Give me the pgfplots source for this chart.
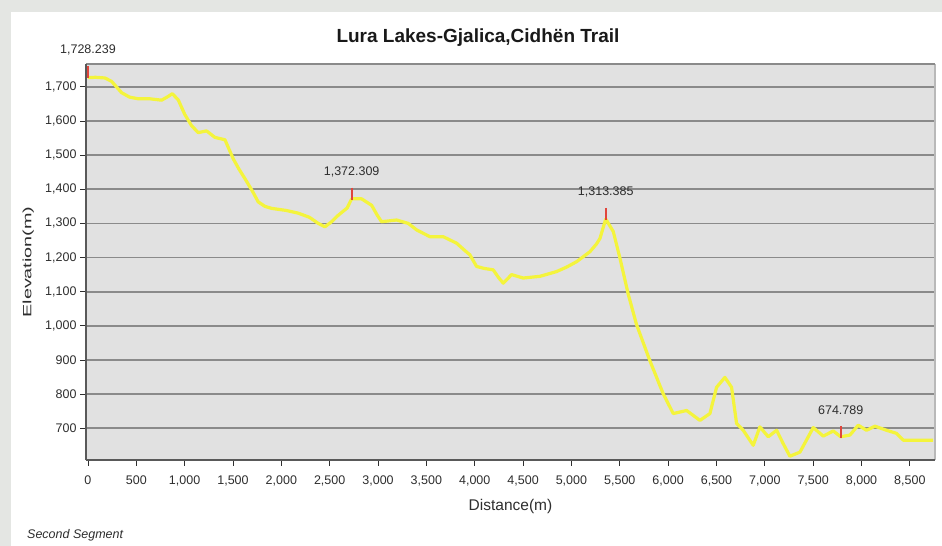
\documentclass[border=0pt]{standalone}
\usepackage{pgfplots}
\pgfplotsset{compat=1.18}
\usepackage{fontspec}
\setmainfont{Liberation Sans}
\usepackage{graphicx}
\definecolor{frame}{HTML}{E4E6E3}
\definecolor{plotbg}{HTML}{E1E1E1}
\definecolor{gridc}{HTML}{8A8A8A}
\definecolor{trail}{HTML}{F4F43C}
\definecolor{txt}{HTML}{2E2E2E}
\definecolor{peak}{HTML}{E0463C}

% elevation profile, distance (m) vs elevation (m)
\pgfplotstableread{
x y
0 1727
80 1728
176 1726
245 1716
348 1683
430 1670
520 1665
640 1665
762 1661
830 1672
872 1680
934 1662
1000 1620
1072 1586
1141 1566
1227 1571
1313 1552
1417 1545
1503 1489
1560 1460
1624 1431
1700 1395
1761 1363
1830 1350
1900 1344
2050 1338
2175 1330
2290 1318
2382 1300
2451 1290
2520 1305
2589 1324
2680 1345
2727 1372
2830 1372
2934 1353
2990 1325
3037 1305
3192 1310
3313 1300
3399 1281
3537 1261
3675 1261
3813 1242
3900 1220
3950 1208
4019 1174
4100 1168
4191 1164
4250 1140
4295 1125
4381 1150
4501 1140
4674 1145
4847 1159
4950 1172
5054 1188
5191 1217
5260 1240
5295 1256
5355 1313
5433 1276
5502 1198
5588 1092
5673 1004
5811 898
5949 801
6053 743
6191 752
6329 723
6432 743
6501 820
6587 849
6656 820
6708 714
6777 694
6880 650
6949 704
7035 675
7122 694
7190 655
7259 618
7363 630
7501 702
7604 677
7708 692
7785 675
7880 680
7966 709
8052 694
8139 706
8259 694
8362 685
8431 665
8569 665
8740 665
}\profile

\pgfplotstableread{
x y lab
0 1728.239 1,728.239
2727 1372.309 1,372.309
5355 1313.385 1,313.385
7785 674.789 674.789
}\peaks

\begin{document}
\begin{tikzpicture}[x=1bp,y=1bp]
\fill[frame] (0,0) rectangle (942,546);
\fill[white] (11,0) rectangle (942,534);
\begin{axis}[
  at={(86bp,86bp)}, anchor=south west,
  scale only axis, width=849bp, height=396bp,
  xmin=-20, xmax=8760, ymin=607, ymax=1767,
  axis background/.style={fill=plotbg},
  axis line style={draw=none},
  xtick={0,500,...,8500}, ytick={700,800,...,1700},
  tick pos=left, tick align=outside, major tick length=6bp,
  tick style={draw=txt, line width=0.8bp},
  ymajorgrids, grid style={draw=gridc, line width=1.7bp},
  /pgf/number format/1000 sep={,},
  /pgf/number format/assume math mode=true,
  tick label style={font=\fontsize{12.5bp}{14bp}\selectfont, text=txt},
  xticklabel style={yshift=-6bp},
  xlabel={Distance(m)},
  xlabel style={at={(axis description cs:0.5,0)}, anchor=north, yshift=-39bp,
    inner sep=0pt, font=\fontsize{15.5bp}{17bp}\selectfont, text=txt},
  ylabel={\scalebox{1.65}[1]{Elevation(m)}},
  ylabel style={at={(axis description cs:0,0.5)}, anchor=south, yshift=52bp,
    inner sep=0pt, font=\fontsize{12bp}{14bp}\selectfont, text=txt},
  clip=false,
]
\addplot[trail, line width=3.2bp, line join=round] table[x=x, y=y] {\profile};
\addplot[only marks, mark=|, mark size=6bp,
  mark options={peak, line width=2bp, yshift=5bp},
  point meta=explicit symbolic, nodes near coords,
  nodes near coords style={anchor=south, inner sep=0pt, yshift=16bp,
    font=\fontsize{12.5bp}{14bp}\selectfont, text=txt}]
  table[x=x, y=y, meta=lab] {\peaks};
\draw[gridc!60, line width=1.2bp] (rel axis cs:1,0) -- (rel axis cs:1,1);
\draw[gridc, line width=1.6bp] (rel axis cs:0,1) -- (rel axis cs:1,1);
\draw[black!65, line width=1.4bp] (rel axis cs:0,0) -- (rel axis cs:0,1);
\draw[black!65, line width=1.4bp] (rel axis cs:0,0) -- (rel axis cs:1,0);
\end{axis}
\node[font=\bfseries\fontsize{19bp}{22bp}\selectfont, text=black!90] at (478,508) {Lura Lakes-Gjalica,Cidhën Trail};
\node[anchor=west, inner sep=0pt, font=\itshape\fontsize{12.5bp}{14bp}\selectfont, text=txt] at (27,11) {Second Segment};
\end{tikzpicture}
\end{document}
